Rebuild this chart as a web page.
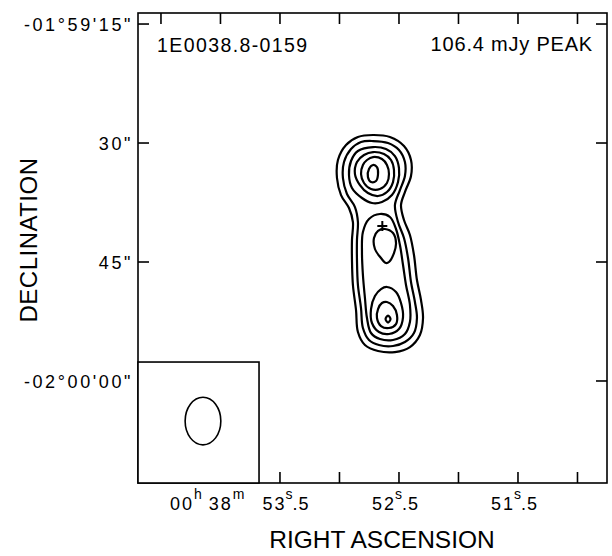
<!DOCTYPE html>
<html>
<head>
<meta charset="utf-8">
<script src="https://cdn.jsdelivr.net/npm/d3@7"></script>
<style>
  body { margin: 0; background: #fff; }
  text { font-family: 'Liberation Sans', Arial, sans-serif; fill: #000; }
</style>
</head>
<body>
<div id="chart"></div>
<script>
// RA in seconds of time (00h 38m ..s), Dec in arcsec south of -01°59'00"
var raTicks = [54.5, 54.0, 53.5, 53.0, 52.5, 52.0, 51.5, 51.0]
var raLabels = [53.5, 52.5, 51.5]
var decTicks = [15, 30, 45, 60]
var decLabels = ['-01°59\'15"', '30"', '45"', '-02°00\'00"']

var sourceName = '1E0038.8-0159'
var peakLabel = '106.4 mJy PEAK'

var level1 = [
  [52.718, 28.99], [52.576, 29.24], [52.458, 30.38], [52.399, 32.14],
  [52.399, 34.16], [52.45, 36.18], [52.483, 37.82], [52.458, 39.71],
  [52.408, 41.6], [52.374, 44.12], [52.349, 47.27], [52.315, 49.79],
  [52.298, 52.06], [52.324, 54.2], [52.408, 55.72], [52.534, 56.35],
  [52.676, 56.22], [52.786, 55.47], [52.845, 53.83], [52.861, 51.05],
  [52.887, 47.9], [52.895, 44.75], [52.895, 42.23], [52.887, 39.96],
  [52.92, 38.2], [52.987, 36.56], [53.021, 34.41], [53.013, 32.14],
  [52.945, 30.25], [52.845, 29.24]
]
var level2 = [
  [52.718, 29.75], [52.592, 30.0], [52.5, 30.88], [52.45, 32.4],
  [52.45, 34.16], [52.492, 35.93], [52.534, 37.82], [52.508, 39.96],
  [52.458, 41.98], [52.424, 44.5], [52.399, 47.52], [52.366, 50.04],
  [52.349, 52.06], [52.374, 53.95], [52.45, 55.09], [52.55, 55.59],
  [52.668, 55.47], [52.752, 54.83], [52.803, 53.32], [52.819, 50.8],
  [52.845, 47.9], [52.853, 44.75], [52.853, 42.23], [52.845, 39.96],
  [52.87, 38.07], [52.937, 36.43], [52.971, 34.41], [52.962, 32.4],
  [52.903, 30.76], [52.819, 29.87]
]
var level3North = [
  [52.718, 30.51], [52.609, 30.76], [52.534, 31.64], [52.5, 33.15],
  [52.508, 34.92], [52.559, 36.56], [52.643, 37.44], [52.727, 37.56],
  [52.811, 36.93], [52.895, 35.67], [52.92, 34.04], [52.903, 32.27],
  [52.845, 31.01]
]
var level3South = [
  [52.66, 38.95], [52.576, 39.33], [52.525, 40.84], [52.492, 42.86],
  [52.466, 45.38], [52.441, 47.9], [52.408, 50.42], [52.408, 52.57],
  [52.45, 54.08], [52.55, 54.83], [52.66, 54.71], [52.735, 53.95],
  [52.769, 52.06], [52.786, 49.54], [52.803, 46.64], [52.811, 43.74],
  [52.803, 41.22], [52.752, 39.58]
]
var level4North = [
  [52.718, 31.14], [52.626, 31.39], [52.567, 32.14], [52.542, 33.4],
  [52.55, 34.92], [52.601, 36.18], [52.676, 36.68], [52.761, 36.3],
  [52.828, 35.3], [52.87, 33.91], [52.853, 32.4], [52.794, 31.51]
]
var level4Middle = [
  [52.618, 40.84], [52.55, 41.35], [52.525, 42.61], [52.542, 43.87],
  [52.584, 45.0], [52.609, 45.13], [52.651, 44.5], [52.702, 43.36],
  [52.71, 41.98], [52.676, 41.09]
]
var level4South = [
  [52.601, 48.15], [52.525, 48.78], [52.483, 50.17], [52.466, 51.94],
  [52.5, 53.45], [52.584, 54.08], [52.668, 53.83], [52.727, 52.69],
  [52.735, 50.93], [52.702, 49.29], [52.651, 48.41]
]
var level5North = [
  [52.718, 31.77], [52.643, 32.02], [52.601, 32.77], [52.584, 33.91],
  [52.601, 35.04], [52.66, 35.8], [52.735, 35.8], [52.794, 35.04],
  [52.819, 33.91], [52.803, 32.77], [52.769, 32.14]
]
var level5South = [
  [52.601, 50.04], [52.55, 50.55], [52.517, 51.68], [52.525, 52.82],
  [52.584, 53.32], [52.651, 53.07], [52.685, 52.06], [52.676, 50.93],
  [52.643, 50.17]
]
var level6North = [
  [52.718, 32.77], [52.685, 33.03], [52.676, 33.91], [52.693, 34.79],
  [52.735, 34.92], [52.761, 34.29], [52.752, 33.28]
]
var level6South = [
  [52.592, 51.75], [52.571, 52.19], [52.592, 52.63], [52.613, 52.19]
]

var contours = [
  level1, level2, level3North, level3South, level4North, level4Middle,
  level4South, level5North, level5South, level6North, level6South
]

// optical / X-ray position marker
var markerPos = [52.64, 40.46]

// restoring beam (FWHM, arcsec) and where it is drawn
var beamMajor = 6.0
var beamMinor = 4.5
var beamCenter = [54.147, 65.05]
var beamBoxCorner = [53.676, 57.61]

var margin = { top: 13, left: 138, right: 5, bottom: 73 }
var width = 612 - margin.left - margin.right
var height = 556 - margin.top - margin.bottom

var svg = d3
  .select('#chart')
  .append('svg')
  .attr('width', width + margin.left + margin.right)
  .attr('height', height + margin.top + margin.bottom)
  .append('g')
  .attr('transform', `translate(${margin.left},${margin.top})`)

var xPositionScale = d3
  .scaleLinear()
  .domain([54.693, 50.752])
  .range([0, width])

var yPositionScale = d3
  .scaleLinear()
  .domain([13.61, 72.86])
  .range([0, height])

var tickLen = 11

/* Contours */

var contourLine = d3
  .line()
  .x(d => xPositionScale(d[0]))
  .y(d => yPositionScale(d[1]))
  .curve(d3.curveCatmullRomClosed.alpha(0.5))

svg
  .selectAll('.contour')
  .data(contours)
  .enter()
  .append('path')
  .attr('class', 'contour')
  .attr('d', contourLine)
  .attr('fill', 'none')
  .attr('stroke', '#000')
  .attr('stroke-width', 2.2)

// position cross
var mx = xPositionScale(markerPos[0])
var my = yPositionScale(markerPos[1])
svg
  .append('path')
  .attr('d', `M${mx - 5},${my}H${mx + 5}M${mx},${my - 5}V${my + 5}`)
  .attr('stroke', '#000')
  .attr('stroke-width', 2)

/* Frame and ticks */

svg
  .append('rect')
  .attr('width', width)
  .attr('height', height)
  .attr('fill', 'none')
  .attr('stroke', '#000')
  .attr('stroke-width', 1.6)

svg
  .selectAll('.tick-top')
  .data(raTicks)
  .enter()
  .append('line')
  .attr('x1', d => xPositionScale(d))
  .attr('x2', d => xPositionScale(d))
  .attr('y1', 0)
  .attr('y2', tickLen)
  .attr('stroke', '#000')
  .attr('stroke-width', 1.6)

svg
  .selectAll('.tick-bottom')
  .data(raTicks)
  .enter()
  .append('line')
  .attr('x1', d => xPositionScale(d))
  .attr('x2', d => xPositionScale(d))
  .attr('y1', height)
  .attr('y2', height - tickLen)
  .attr('stroke', '#000')
  .attr('stroke-width', 1.6)

svg
  .selectAll('.tick-left')
  .data(decTicks)
  .enter()
  .append('line')
  .attr('x1', 0)
  .attr('x2', tickLen)
  .attr('y1', d => yPositionScale(d))
  .attr('y2', d => yPositionScale(d))
  .attr('stroke', '#000')
  .attr('stroke-width', 1.6)

svg
  .selectAll('.tick-right')
  .data(decTicks)
  .enter()
  .append('line')
  .attr('x1', width)
  .attr('x2', width - tickLen)
  .attr('y1', d => yPositionScale(d))
  .attr('y2', d => yPositionScale(d))
  .attr('stroke', '#000')
  .attr('stroke-width', 1.6)

/* Beam inset */

var boxRight = xPositionScale(beamBoxCorner[0])
var boxTop = yPositionScale(beamBoxCorner[1])
svg
  .append('rect')
  .attr('x', 0)
  .attr('y', boxTop)
  .attr('width', boxRight)
  .attr('height', height - boxTop)
  .attr('fill', '#fff')
  .attr('stroke', '#000')
  .attr('stroke-width', 1.6)

var arcsecPx = yPositionScale(1) - yPositionScale(0)
svg
  .append('ellipse')
  .attr('cx', xPositionScale(beamCenter[0]))
  .attr('cy', yPositionScale(beamCenter[1]))
  .attr('rx', (beamMinor / 2) * arcsecPx)
  .attr('ry', (beamMajor / 2) * arcsecPx)
  .attr('fill', 'none')
  .attr('stroke', '#000')
  .attr('stroke-width', 1.6)

/* Labels */

svg
  .selectAll('.dec-label')
  .data(decTicks)
  .enter()
  .append('text')
  .attr('x', -5)
  .attr('y', d => yPositionScale(d) + 7)
  .attr('text-anchor', 'end')
  .attr('font-size', 18)
  .attr('letter-spacing', 2.6)
  .text((d, i) => decLabels[i])

// RA labels: seconds with a superscript "s" before the decimal part
raLabels.forEach((ra, i) => {
  var parts = String(ra).split('.')
  var label = svg
    .append('text')
    .attr('x', xPositionScale(ra) + (i === 0 ? -110 : -27))
    .attr('y', height + 27)
    .attr('font-size', 18)
    .attr('letter-spacing', 2)

  if (i === 0) {
    label.append('tspan').text('00')
    label.append('tspan').attr('dy', -11).attr('font-size', 14).text('h')
    label.append('tspan').attr('dy', 11).attr('dx', 5).text('38')
    label.append('tspan').attr('dy', -11).attr('font-size', 14).text('m')
    label.append('tspan').attr('dy', 11).attr('dx', 16).text(parts[0])
  } else {
    label.append('tspan').text(parts[0])
  }
  label
    .append('tspan')
    .attr('dy', -11)
    .attr('dx', -1)
    .attr('font-size', 14)
    .attr('letter-spacing', 0)
    .text('s')
  label
    .append('tspan')
    .attr('dy', 11)
    .attr('letter-spacing', 1)
    .text('.' + parts[1])
})

svg
  .append('text')
  .attr('x', 244)
  .attr('y', height + 65)
  .attr('text-anchor', 'middle')
  .attr('font-size', 24.5)
  .text('RIGHT ASCENSION')

svg
  .append('text')
  .attr('transform', `translate(${-margin.left + 37},${227}) rotate(-90)`)
  .attr('text-anchor', 'middle')
  .attr('font-size', 24)
  .attr('letter-spacing', 0.5)
  .text('DECLINATION')

svg
  .append('text')
  .attr('x', 19)
  .attr('y', 39)
  .attr('font-size', 19.5)
  .attr('letter-spacing', 1.4)
  .text(sourceName)

svg
  .append('text')
  .attr('x', width - 14)
  .attr('y', 38)
  .attr('text-anchor', 'end')
  .attr('font-size', 20)
  .attr('letter-spacing', 0.8)
  .text(peakLabel)
</script>
</body>
</html>
